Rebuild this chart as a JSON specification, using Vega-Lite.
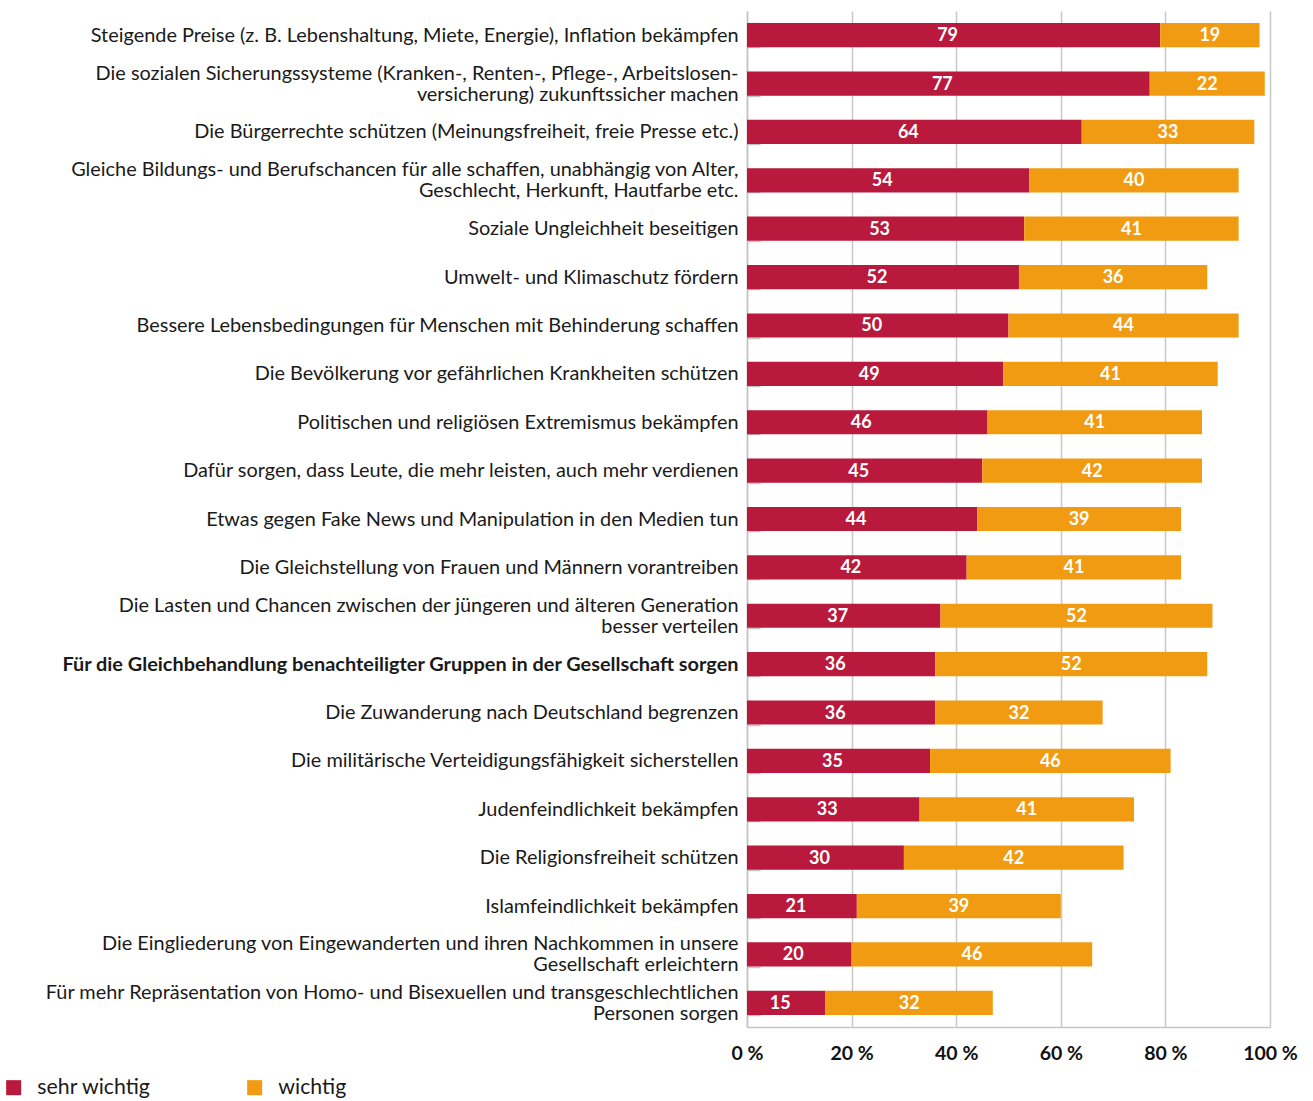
{
  "$schema": "https://vega.github.io/schema/vega-lite/v6.json",
  "width": 523,
  "height": 1016,
  "autosize": {"type": "none"},
  "padding": {"left": 747, "top": 11, "right": 43, "bottom": 74},
  "background": "white",
  "config": {
    "font": "Lato",
    "view": {"stroke": null},
    "axis": {"labelFont": "Lato", "titleFont": "Lato"},
    "legend": {"labelFont": "Lato"}
  },
  "data": {
    "values": [
      {"item": "Steigende Preise (z. B. Lebenshaltung, Miete, Energie), Inflation bekämpfen", "type": "sehr wichtig", "value": 79},
      {"item": "Steigende Preise (z. B. Lebenshaltung, Miete, Energie), Inflation bekämpfen", "type": "wichtig", "value": 19},
      {"item": "Die sozialen Sicherungssysteme (Kranken-, Renten-, Pflege-, Arbeitslosen-|versicherung) zukunftssicher machen", "type": "sehr wichtig", "value": 77},
      {"item": "Die sozialen Sicherungssysteme (Kranken-, Renten-, Pflege-, Arbeitslosen-|versicherung) zukunftssicher machen", "type": "wichtig", "value": 22},
      {"item": "Die Bürgerrechte schützen (Meinungsfreiheit, freie Presse etc.)", "type": "sehr wichtig", "value": 64},
      {"item": "Die Bürgerrechte schützen (Meinungsfreiheit, freie Presse etc.)", "type": "wichtig", "value": 33},
      {"item": "Gleiche Bildungs- und Berufschancen für alle schaffen, unabhängig von Alter,|Geschlecht, Herkunft, Hautfarbe etc.", "type": "sehr wichtig", "value": 54},
      {"item": "Gleiche Bildungs- und Berufschancen für alle schaffen, unabhängig von Alter,|Geschlecht, Herkunft, Hautfarbe etc.", "type": "wichtig", "value": 40},
      {"item": "Soziale Ungleichheit beseitigen", "type": "sehr wichtig", "value": 53},
      {"item": "Soziale Ungleichheit beseitigen", "type": "wichtig", "value": 41},
      {"item": "Umwelt- und Klimaschutz fördern", "type": "sehr wichtig", "value": 52},
      {"item": "Umwelt- und Klimaschutz fördern", "type": "wichtig", "value": 36},
      {"item": "Bessere Lebensbedingungen für Menschen mit Behinderung schaffen", "type": "sehr wichtig", "value": 50},
      {"item": "Bessere Lebensbedingungen für Menschen mit Behinderung schaffen", "type": "wichtig", "value": 44},
      {"item": "Die Bevölkerung vor gefährlichen Krankheiten schützen", "type": "sehr wichtig", "value": 49},
      {"item": "Die Bevölkerung vor gefährlichen Krankheiten schützen", "type": "wichtig", "value": 41},
      {"item": "Politischen und religiösen Extremismus bekämpfen", "type": "sehr wichtig", "value": 46},
      {"item": "Politischen und religiösen Extremismus bekämpfen", "type": "wichtig", "value": 41},
      {"item": "Dafür sorgen, dass Leute, die mehr leisten, auch mehr verdienen", "type": "sehr wichtig", "value": 45},
      {"item": "Dafür sorgen, dass Leute, die mehr leisten, auch mehr verdienen", "type": "wichtig", "value": 42},
      {"item": "Etwas gegen Fake News und Manipulation in den Medien tun", "type": "sehr wichtig", "value": 44},
      {"item": "Etwas gegen Fake News und Manipulation in den Medien tun", "type": "wichtig", "value": 39},
      {"item": "Die Gleichstellung von Frauen und Männern vorantreiben", "type": "sehr wichtig", "value": 42},
      {"item": "Die Gleichstellung von Frauen und Männern vorantreiben", "type": "wichtig", "value": 41},
      {"item": "Die Lasten und Chancen zwischen der jüngeren und älteren Generation|besser verteilen", "type": "sehr wichtig", "value": 37},
      {"item": "Die Lasten und Chancen zwischen der jüngeren und älteren Generation|besser verteilen", "type": "wichtig", "value": 52},
      {"item": "Für die Gleichbehandlung benachteiligter Gruppen in der Gesellschaft sorgen", "type": "sehr wichtig", "value": 36},
      {"item": "Für die Gleichbehandlung benachteiligter Gruppen in der Gesellschaft sorgen", "type": "wichtig", "value": 52},
      {"item": "Die Zuwanderung nach Deutschland begrenzen", "type": "sehr wichtig", "value": 36},
      {"item": "Die Zuwanderung nach Deutschland begrenzen", "type": "wichtig", "value": 32},
      {"item": "Die militärische Verteidigungsfähigkeit sicherstellen", "type": "sehr wichtig", "value": 35},
      {"item": "Die militärische Verteidigungsfähigkeit sicherstellen", "type": "wichtig", "value": 46},
      {"item": "Judenfeindlichkeit bekämpfen", "type": "sehr wichtig", "value": 33},
      {"item": "Judenfeindlichkeit bekämpfen", "type": "wichtig", "value": 41},
      {"item": "Die Religionsfreiheit schützen", "type": "sehr wichtig", "value": 30},
      {"item": "Die Religionsfreiheit schützen", "type": "wichtig", "value": 42},
      {"item": "Islamfeindlichkeit bekämpfen", "type": "sehr wichtig", "value": 21},
      {"item": "Islamfeindlichkeit bekämpfen", "type": "wichtig", "value": 39},
      {"item": "Die Eingliederung von Eingewanderten und ihren Nachkommen in unsere|Gesellschaft erleichtern", "type": "sehr wichtig", "value": 20},
      {"item": "Die Eingliederung von Eingewanderten und ihren Nachkommen in unsere|Gesellschaft erleichtern", "type": "wichtig", "value": 46},
      {"item": "Für mehr Repräsentation von Homo- und Bisexuellen und transgeschlechtlichen|Personen sorgen", "type": "sehr wichtig", "value": 15},
      {"item": "Für mehr Repräsentation von Homo- und Bisexuellen und transgeschlechtlichen|Personen sorgen", "type": "wichtig", "value": 32}
    ]
  },
  "transform": [
    {"stack": "value", "groupby": ["item"], "sort": [{"field": "type", "order": "ascending"}], "as": ["v0", "v1"]},
    {"calculate": "(datum.v0 + datum.v1) / 2", "as": "mid"}
  ],
  "encoding": {
    "y": {
      "field": "item",
      "type": "nominal",
      "sort": null,
      "scale": {"paddingInner": 0.5, "paddingOuter": 0.25},
      "axis": {
        "title": null,
        "labelExpr": "isValid(datum.value) ? split(datum.value, '|') : ''",
        "labelFontSize": 19.9,
        "labelColor": "#1a1a1a",
        "labelLineHeight": 21,
        "labelLimit": 800,
        "labelPadding": 22,
        "labelOffset": {"condition": {"test": "isValid(datum.value) && indexof(datum.value, '|') >= 0", "value": -10.5}, "value": 0},
        "labelFontWeight": {"condition": {"test": "isValid(datum.value) && indexof(datum.value, 'Gleichbehandlung') >= 0", "value": "bold"}, "value": "normal"},
        "tickBand": "extent",
        "tickSize": -13,
        "tickColor": "#c4c4c4",
        "tickWidth": 1.5,
        "domainColor": "#c4c4c4",
        "domainWidth": 1.5,
        "grid": false
      }
    }
  },
  "layer": [
    {
      "mark": {"type": "bar"},
      "encoding": {
        "x": {
          "field": "v0",
          "type": "quantitative",
          "scale": {"domain": [0, 100], "nice": false},
          "axis": {
            "title": null,
            "values": [0, 20, 40, 60, 80, 100],
            "labelExpr": "datum.value + ' %'",
            "labelFlush": false,
            "labelFontSize": 19.5,
            "labelFontWeight": "bold",
            "labelColor": "#111111",
            "labelPadding": 17,
            "ticks": false,
            "grid": true,
            "gridColor": "#c8c8c8",
            "gridWidth": 1.5,
            "domainColor": "#c4c4c4",
            "domainWidth": 1.5
          }
        },
        "x2": {"field": "v1"},
        "color": {
          "field": "type",
          "type": "nominal",
          "scale": {"domain": ["sehr wichtig", "wichtig"], "range": ["#b8193c", "#f19b12"]},
          "legend": {
            "title": null,
            "orient": "none",
            "legendX": -744,
            "legendY": 1066,
            "direction": "horizontal",
            "symbolType": "square",
            "symbolSize": 225,
            "symbolStrokeWidth": 0,
            "labelFontSize": 21.3,
            "labelColor": "#1a1a1a",
            "labelOffset": 13,
            "columnPadding": 93
          }
        }
      }
    },
    {
      "transform": [{"filter": "datum.type == 'sehr wichtig'"}],
      "mark": {"type": "text", "color": "white", "fontSize": 18, "fontWeight": "bold", "baseline": "middle", "align": "center", "dx": -6, "dy": 1},
      "encoding": {
        "x": {"field": "mid", "type": "quantitative"},
        "text": {"field": "value", "type": "quantitative"}
      }
    },
    {
      "transform": [{"filter": "datum.type == 'wichtig'"}],
      "mark": {"type": "text", "color": "white", "fontSize": 18, "fontWeight": "bold", "baseline": "middle", "align": "center", "dy": 1},
      "encoding": {
        "x": {"field": "mid", "type": "quantitative"},
        "text": {"field": "value", "type": "quantitative"}
      }
    }
  ]
}
